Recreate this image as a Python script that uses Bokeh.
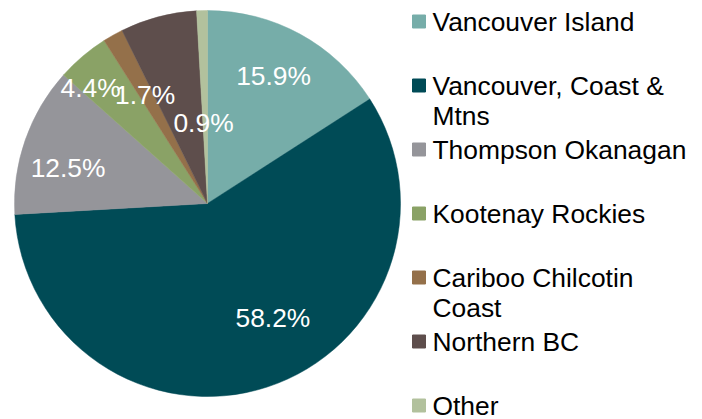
import numpy as np
from bokeh.plotting import figure
from bokeh.models import Range1d, ColumnDataSource
from bokeh.core.properties import value
from bokeh.embed import file_html
from bokeh.resources import INLINE

# ---- data ----
regions = ["Vancouver Island", "Vancouver, Coast &\nMtns", "Thompson Okanagan",
           "Kootenay Rockies", "Cariboo Chilcotin\nCoast", "Northern BC", "Other"]
shares = [15.9, 58.2, 12.5, 4.4, 1.7, 6.4, 0.9]
pct_labels = ["15.9%", "58.2%", "12.5%", "4.4%", "1.7%", "", "0.9%"]
colors = ["#76ADA9", "#004B56", "#95959A", "#8AA266", "#94704A", "#5E4E4C", "#B2C19D"]

# ---- layout / style ----
W, H = 702, 419
cx, cy, R = 207, 216, 193
FONT = "Liberation Sans"
FS = 26.4
label_r = [144, 132, 144, 164, 125, 0, 81]            # label distance from centre (px)
label_dtheta = [-1.3, -11.7, -4.8, -5.1, -0.6, 0, -1.2]  # angular nudge (deg)
leg_sq_x, leg_txt_x = 418.5, 432
leg_top, leg_step, line_h = 21, 64.0, 30

p = figure(width=W, height=H, x_range=Range1d(0, W), y_range=Range1d(0, H),
           output_backend="svg", toolbar_location=None, min_border=0,
           x_axis_location=None, y_axis_location=None)
p.grid.visible = False
p.outline_line_color = None
p.background_fill_color = "white"
p.border_fill_color = "white"

vals = np.array(shares) / 100.0
cum = np.concatenate([[0], np.cumsum(vals)])
start = np.pi / 2 - 2 * np.pi * cum[:-1]
end = np.pi / 2 - 2 * np.pi * cum[1:]
src = ColumnDataSource(dict(start=start, end=end, color=colors))
p.wedge(x=cx, y=cy, radius=R, start_angle="start", end_angle="end",
        direction="clock", fill_color="color", line_color="color", line_width=0.5,
        source=src)

# percentage labels
mid = (cum[:-1] + cum[1:]) / 2 * 360.0
lx, ly, lt = [], [], []
for m, r, d, t in zip(mid, label_r, label_dtheta, pct_labels):
    if not t:
        continue
    th = np.radians(m + d)
    lx.append(cx + r * np.sin(th))
    ly.append(cy + r * np.cos(th))
    lt.append(t)
p.text(x=lx, y=ly, text=lt, text_color="white", text_font=value(FONT),
       text_font_size=f"{FS}px", text_align="center", text_baseline="middle")

# legend
sq_y, tx, ty, tt = [], [], [], []
for i, name in enumerate(regions):
    yc = H - (leg_top + i * leg_step)
    sq_y.append(yc)
    for j, line in enumerate(name.split("\n")):
        tx.append(leg_txt_x)
        ty.append(yc - j * line_h)
        tt.append(line)
p.scatter(x=[leg_sq_x] * len(regions), y=sq_y, marker="square", size=13,
          fill_color=colors, line_color=colors)
p.text(x=tx, y=ty, text=tt, text_color="black", text_font=value(FONT),
       text_font_size=f"{FS}px", text_align="left", text_baseline="middle")

open("out.html", "w").write(file_html(p, INLINE))
